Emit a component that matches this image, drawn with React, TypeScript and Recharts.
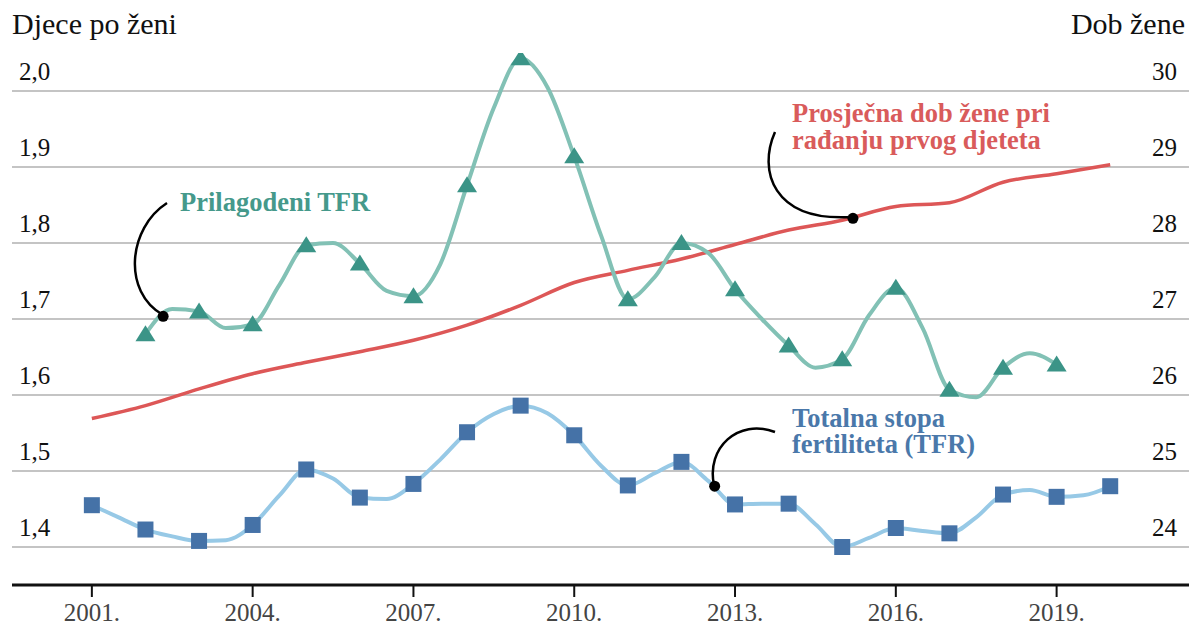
import React from 'react';
import { ComposedChart, Line, XAxis, YAxis, ReferenceLine, ReferenceDot } from 'recharts';

const FONT = '"Liberation Serif", "Times New Roman", serif';

// annual years and half-year steps the lines pass through
const years = [2001, 2002, 2003, 2004, 2005, 2006, 2007, 2008, 2009, 2010, 2011, 2012, 2013, 2014, 2015, 2016, 2017, 2018, 2019, 2020];
const halfYears = [2001.5, 2002.5, 2003.5, 2004.5, 2005.5, 2006.5, 2007.5, 2008.5, 2009.5, 2010.5, 2011.5, 2012.5, 2013.5, 2014.5, 2015.5, 2016.5, 2017.5, 2018.5, 2019.5];

// Totalna stopa fertiliteta (TFR)
const tfr = [1.455, 1.423, 1.408, 1.429, 1.502, 1.465, 1.483, 1.551, 1.586, 1.547, 1.481, 1.512, 1.456, 1.457, 1.40, 1.425, 1.418, 1.469, 1.466, 1.48];
const tfrMid = [1.439, 1.414, 1.409, 1.468, 1.49, 1.463, 1.515, 1.575, 1.576, 1.507, 1.497, 1.487, 1.457, 1.43, 1.412, 1.421, 1.439, 1.475, 1.468];

// Prilagođeni TFR (2002 - 2019)
const adjYears = [2002, 2003, 2004, 2005, 2006, 2007, 2008, 2009, 2010, 2011, 2012, 2013, 2014, 2015, 2016, 2017, 2018, 2019];
const adjTfr = [1.68, 1.71, 1.693, 1.797, 1.773, 1.73, 1.876, 2.043, 1.914, 1.726, 1.80, 1.739, 1.665, 1.647, 1.741, 1.607, 1.636, 1.64];
const adjMidYears = [2002.5, 2003.5, 2004.5, 2005.5, 2006.5, 2007.5, 2008.5, 2009.5, 2010.5, 2011.5, 2012.5, 2013.5, 2014.5, 2015.5, 2016.5, 2017.5, 2018.5];
const adjMid = [1.713, 1.688, 1.745, 1.80, 1.737, 1.772, 1.978, 2.005, 1.81, 1.755, 1.787, 1.70, 1.636, 1.705, 1.688, 1.597, 1.655];

// Prosječna dob žene pri rađanju prvog djeteta
const age = [25.69, 25.86, 26.08, 26.28, 26.43, 26.57, 26.72, 26.92, 27.18, 27.48, 27.64, 27.79, 27.98, 28.17, 28.30, 28.48, 28.53, 28.80, 28.91, 29.03];

const leftTicks = [1.4, 1.5, 1.6, 1.7, 1.8, 1.9, 2.0];
const rightTicks = [24, 25, 26, 27, 28, 29, 30];
const xTicks = [2001, 2004, 2007, 2010, 2013, 2016, 2019];

type Row = { x: number; tfrLine?: number; tfrMark?: number; adjLine?: number; adjMark?: number; age?: number };

const rowMap = new Map<number, Row>();
const row = (x: number) => {
  if (!rowMap.has(x)) rowMap.set(x, { x });
  return rowMap.get(x)!;
};
years.forEach((y, i) => {
  const r = row(y);
  r.tfrLine = tfr[i];
  r.tfrMark = tfr[i];
  r.age = age[i];
});
halfYears.forEach((y, i) => { row(y).tfrLine = tfrMid[i]; });
adjYears.forEach((y, i) => {
  const r = row(y);
  r.adjLine = adjTfr[i];
  r.adjMark = adjTfr[i];
});
adjMidYears.forEach((y, i) => { row(y).adjLine = adjMid[i]; });
const data = Array.from(rowMap.values()).sort((a, b) => a.x - b.x);

const Triangle = (props: any) => {
  const { cx, cy, value } = props;
  if (value == null || cx == null) return null;
  return <path d={`M${cx},${cy - 9} L${cx + 10},${cy + 7} L${cx - 10},${cy + 7} Z`} fill="#3b9487" />;
};

const Square = (props: any) => {
  const { cx, cy, value } = props;
  if (value == null || cx == null) return null;
  return <rect x={cx - 8} y={cy - 8} width={16} height={16} fill="#4572a7" />;
};

// tick labels sit just above their gridline, inside the plot
const LeftLabel = (props: any) => {
  const { viewBox, text } = props;
  if (!viewBox) return null;
  return (
    <text x={viewBox.x + 7} y={viewBox.y - 11} fontSize={25} fontFamily={FONT} fill="#111">
      {text}
    </text>
  );
};

const RightLabel = (props: any) => {
  const { viewBox, text } = props;
  if (!viewBox) return null;
  return (
    <text x={viewBox.x + viewBox.width - 12} y={viewBox.y - 11} fontSize={25} fontFamily={FONT} fill="#111" textAnchor="end">
      {text}
    </text>
  );
};

const App = () => {
  return (
    <div style={{ position: 'absolute', left: 0, top: 0, width: 1189, height: 625, background: '#fff' }}>
      <ComposedChart width={1189} height={625} data={data} margin={{ top: 53, right: 0, bottom: 0, left: 12 }}>
        <XAxis
          dataKey="x"
          type="number"
          domain={[1999.51, 2021.47]}
          ticks={xTicks}
          interval={0}
          allowDataOverflow
          height={40}
          tickSize={12}
          tickMargin={6}
          tickFormatter={(v: number) => `${v}.`}
          tick={{ fontSize: 25, fontFamily: FONT, fill: '#444' }}
          tickLine={{ stroke: '#111', strokeWidth: 2 }}
          axisLine={{ stroke: '#111', strokeWidth: 3 }}
        />
        <YAxis yAxisId="left" hide domain={[1.35, 2.05]} ticks={leftTicks} allowDataOverflow />
        <YAxis yAxisId="right" orientation="right" hide domain={[23.5, 30.5]} ticks={rightTicks} allowDataOverflow />
        {leftTicks.map((v) => (
          <ReferenceLine
            key={`l${v}`}
            yAxisId="left"
            y={v}
            stroke="#c4c4c4"
            strokeWidth={2}
            label={<LeftLabel text={v.toFixed(1).replace('.', ',')} />}
          />
        ))}
        {rightTicks.map((v) => (
          <ReferenceLine
            key={`r${v}`}
            yAxisId="right"
            y={v}
            stroke="none"
            label={<RightLabel text={String(v)} />}
          />
        ))}
        <Line yAxisId="right" dataKey="age" type="monotone" stroke="#dd5757" strokeWidth={3.5} dot={false} activeDot={false} connectNulls isAnimationActive={false} />
        <Line yAxisId="left" dataKey="adjLine" type="monotone" stroke="#82c1b5" strokeWidth={4} dot={false} activeDot={false} connectNulls isAnimationActive={false} />
        <Line yAxisId="left" dataKey="tfrLine" type="monotone" stroke="#97c9e6" strokeWidth={4} dot={false} activeDot={false} connectNulls isAnimationActive={false} />
        <Line yAxisId="left" dataKey="adjMark" stroke="none" dot={<Triangle />} activeDot={false} connectNulls isAnimationActive={false} />
        <Line yAxisId="left" dataKey="tfrMark" stroke="none" dot={<Square />} activeDot={false} connectNulls isAnimationActive={false} />
        <ReferenceDot yAxisId="left" x={2002.33} y={1.7035} r={5.5} fill="#000" stroke="none" />
        <ReferenceDot yAxisId="left" x={2012.62} y={1.48} r={5.5} fill="#000" stroke="none" />
        <ReferenceDot yAxisId="right" x={2015.2} y={28.325} r={5.5} fill="#000" stroke="none" />
      </ComposedChart>
      <svg width={1189} height={625} style={{ position: 'absolute', left: 0, top: 0, pointerEvents: 'none' }}>
        <text x={12} y={34} fontSize={30} fontFamily={FONT} fill="#111">Djece po ženi</text>
        <text x={1185} y={34} fontSize={30} fontFamily={FONT} fill="#111" textAnchor="end">Dob žene</text>

        <path d="M167,203 C128,228 122,292 163,315" fill="none" stroke="#000" strokeWidth={2.5} />
        <text x={180} y={211} fontSize={26.5} fontWeight="bold" fontFamily={FONT} fill="#45998b">Prilagodeni TFR</text>

        <path d="M775,132 C758,170 772,222 852,217" fill="none" stroke="#000" strokeWidth={2.5} />
        <text x={792} y={122} fontSize={26.5} fontWeight="bold" fontFamily={FONT} fill="#d95b5b">
          <tspan x={792} dy={0}>Prosječna dob žene pri</tspan>
          <tspan x={792} dy={27}>rađanju prvog djeteta</tspan>
        </text>

        <path d="M775,432 C738,418 706,448 714,485" fill="none" stroke="#000" strokeWidth={2.5} />
        <text x={792} y={427} fontSize={26.5} fontWeight="bold" fontFamily={FONT} fill="#4a78aa">
          <tspan x={792} dy={0}>Totalna stopa</tspan>
          <tspan x={792} dy={26}>fertiliteta (TFR)</tspan>
        </text>
      </svg>
    </div>
  );
};

export default App;
